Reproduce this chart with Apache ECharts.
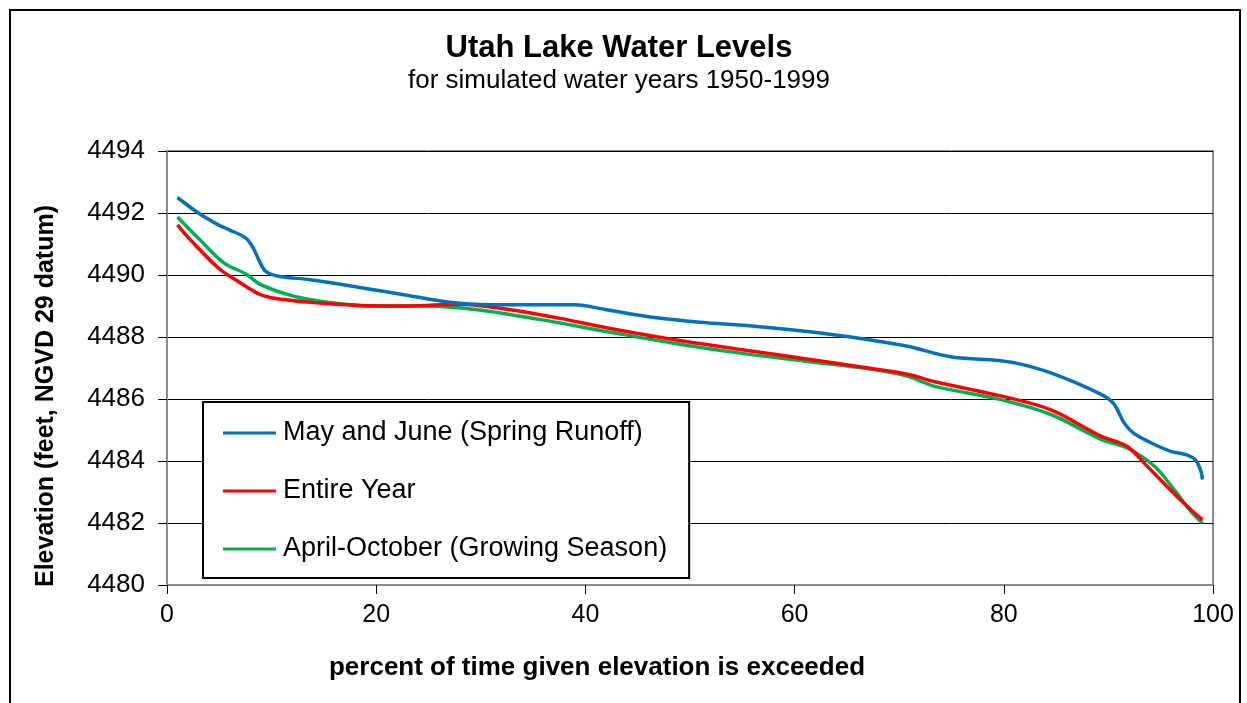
<!DOCTYPE html>
<html>
<head>
<meta charset="utf-8">
<title>Utah Lake Water Levels</title>
<script src="https://cdn.jsdelivr.net/npm/echarts@6/dist/echarts.min.js"></script>
<style>
  html, body { margin: 0; padding: 0; background: #fff; }
  #chart { width: 1247px; height: 703px; }
</style>
</head>
<body>
<div id="chart"></div>
<script>
// values
var pctMayJune = [1, 3, 5, 6, 7.5, 8.2, 8.9, 9.5, 10.8, 13.7, 18.4, 23.2, 27, 30, 35, 39, 42, 46.8, 51.6, 56.4, 61.2, 66, 70.8, 74.9, 79, 81.3, 84.5, 89.3, 90.5, 91.5, 92.4, 94, 95.9, 97.5, 98.3, 98.8, 99];
var elevMayJune = [4492.5, 4492.0, 4491.6, 4491.45, 4491.2, 4490.9, 4490.4, 4490.1, 4489.95, 4489.85, 4489.6, 4489.33, 4489.12, 4489.05, 4489.04, 4489.04, 4488.88, 4488.62, 4488.46, 4488.34, 4488.18, 4487.97, 4487.7, 4487.36, 4487.26, 4487.15, 4486.84, 4486.15, 4485.85, 4485.23, 4484.9, 4484.6, 4484.32, 4484.2, 4484.04, 4483.72, 4483.4];

var pctYear = [1, 2.2, 5, 7, 8.9, 10.1, 13.7, 18.4, 23, 28, 32.8, 37.6, 42, 48.4, 54.8, 61, 67, 70.8, 73.5, 79.7, 84.5, 89.3, 91.8, 93.4, 95.6, 97.5, 99];
var elevYear = [4491.62, 4491.15, 4490.2, 4489.75, 4489.37, 4489.26, 4489.12, 4489.02, 4489.0, 4489.06, 4488.88, 4488.6, 4488.3, 4487.92, 4487.6, 4487.3, 4487.0, 4486.8, 4486.55, 4486.1, 4485.65, 4484.8, 4484.47, 4483.94, 4483.18, 4482.55, 4482.1];

var pctAprOct = [1, 3.1, 5.4, 7.6, 8.9, 12.1, 15.9, 20, 24.8, 29.6, 35.7, 42, 48.4, 54.8, 61, 67.6, 70.8, 73.5, 79.7, 84.5, 89.3, 91.8, 94.4, 96.3, 97.9, 99];
var elevAprOct = [4491.87, 4491.15, 4490.4, 4490.02, 4489.7, 4489.32, 4489.1, 4489.0, 4489.0, 4488.88, 4488.56, 4488.18, 4487.8, 4487.48, 4487.22, 4486.95, 4486.73, 4486.4, 4485.98, 4485.5, 4484.7, 4484.42, 4483.83, 4483.07, 4482.37, 4482.0];

var seriesNames = ['May and June (Spring Runoff)', 'Entire Year', 'April-October (Growing Season)'];
var seriesColors = ['#0070c0', '#ff0000', '#00b050'];

function pairs(xs, ys) {
  return xs.map(function (x, i) { return [x, ys[i]]; });
}

var font = 'Liberation Sans, Arial, sans-serif';
var chart = echarts.init(document.getElementById('chart'));

var option = {
  backgroundColor: '#fff',
  animation: false,
  title: {
    text: 'Utah Lake Water Levels',
    subtext: 'for simulated water years 1950-1999',
    left: 614,
    top: 28,
    textAlign: 'center',
    itemGap: 4,
    textStyle: { fontFamily: font, fontSize: 31, fontWeight: 'bold', color: '#000' },
    subtextStyle: { fontFamily: font, fontSize: 26, color: '#000' }
  },
  legend: {
    orient: 'vertical',
    left: 203,
    top: 402,
    padding: [16, 22, 14, 20],
    icon: 'rect',
    itemWidth: 53,
    itemHeight: 3,
    itemGap: 28,
    backgroundColor: '#fff',
    borderColor: '#000',
    borderWidth: 2,
    borderRadius: 0,
    textStyle: { fontFamily: font, fontSize: 27, lineHeight: 30, color: '#000', padding: [0, 0, 0, 2] },
    data: seriesNames
  },
  grid: {
    left: 167,
    right: 34,
    top: 151,
    bottom: 118,
    show: true,
    borderColor: '#8c8c8c',
    borderWidth: 2
  },
  xAxis: {
    type: 'value',
    min: 0,
    max: 100,
    interval: 20,
    axisLine: { show: true, lineStyle: { color: '#8c8c8c', width: 2 } },
    axisTick: { show: true, inside: false, length: 9, lineStyle: { color: '#000', width: 1 } },
    axisLabel: { margin: 18, fontFamily: font, fontSize: 25, color: '#000' },
    splitLine: { show: false }
  },
  yAxis: {
    type: 'value',
    min: 4480,
    max: 4494,
    interval: 2,
    axisLine: { show: true, lineStyle: { color: '#8c8c8c', width: 2 } },
    axisTick: { show: true, inside: false, length: 9, lineStyle: { color: '#000', width: 1 } },
    axisLabel: {
      margin: 22,
      fontFamily: font,
      fontSize: 26,
      color: '#000',
      formatter: function (v) { return String(v); }
    },
    splitLine: { show: true, lineStyle: { color: '#000', width: 1 } }
  },
  graphic: [
    {
      type: 'rect',
      silent: true,
      shape: { x: 10, y: 10, width: 1230, height: 720 },
      style: { fill: 'none', stroke: '#000', lineWidth: 2 },
      z: -1
    },
    {
      type: 'text',
      x: 597,
      y: 668,
      style: {
        text: 'percent of time given elevation is exceeded',
        font: 'bold 26px ' + font,
        fill: '#000',
        align: 'center',
        verticalAlign: 'middle'
      }
    },
    {
      type: 'text',
      x: 46,
      y: 396,
      rotation: Math.PI / 2,
      style: {
        text: 'Elevation (feet, NGVD 29 datum)',
        font: 'bold 25px ' + font,
        fill: '#000',
        align: 'center',
        verticalAlign: 'middle'
      }
    }
  ],
  series: [
    { name: seriesNames[0], data: pairs(pctMayJune, elevMayJune) },
    { name: seriesNames[1], data: pairs(pctYear, elevYear) },
    { name: seriesNames[2], data: pairs(pctAprOct, elevAprOct) }
  ].map(function (s, i) {
    return {
      name: s.name,
      type: 'line',
      data: s.data,
      smooth: 0.35,
      showSymbol: false,
      symbol: 'none',
      color: seriesColors[i],
      lineStyle: { width: 3.5, color: seriesColors[i] },
      z: 3 - i
    };
  })
};

chart.setOption(option);
</script>
</body>
</html>
